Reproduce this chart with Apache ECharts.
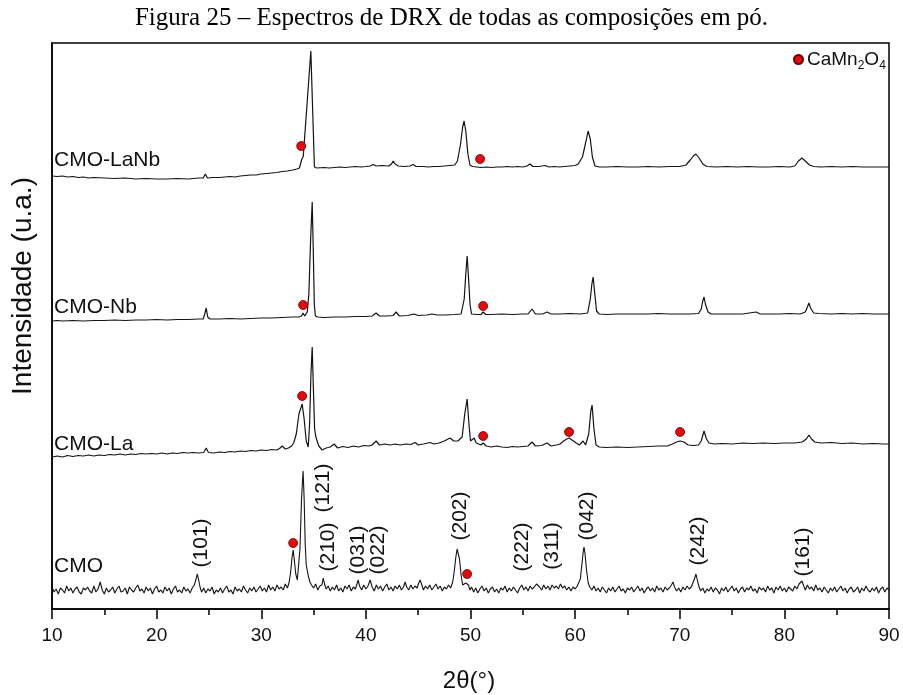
<!DOCTYPE html>
<html>
<head>
<meta charset="utf-8">
<script src="https://cdn.jsdelivr.net/npm/echarts@6/dist/echarts.min.js"></script>
<style>html,body{margin:0;padding:0;background:#fff}#c{width:903px;height:695px}</style>
</head>
<body>
<div id="c"></div>
<script>
// ---- data (2θ in degrees, intensity in arbitrary units, curves stacked with offsets) ----
const seriesNames = ['CMO', 'CMO-La', 'CMO-Nb', 'CMO-LaNb'];

const cmo = [
[10.0,22],[10.2,17],[10.4,20],[10.6,15],[10.8,21],[11.0,19],[11.2,16],[11.4,23],[11.6,18],[11.8,21],[12.0,16],[12.2,20],[12.4,22],[12.6,17],[12.8,15],[13.0,21],[13.2,19],[13.4,22],[13.6,18],[13.8,16],[14.0,23],[14.2,17],[14.4,20],[14.61,27],[14.8,19],[15.0,15],[15.2,21],[15.4,17],[15.6,19],[15.8,22],[16.0,16],[16.2,20],[16.4,23],[16.6,17],[16.8,18],[17.0,21],[17.2,15],[17.4,22],[17.6,19],[17.8,17],[18.0,21],[18.2,24],[18.4,18],[18.6,20],[18.8,16],[19.0,22],[19.2,18],[19.4,21],[19.6,15],[19.8,20],[20.0,23],[20.2,17],[20.4,19],[20.6,16],[20.8,22],[21.0,18],[21.2,21],[21.4,15],[21.6,20],[21.8,23],[22.0,17],[22.2,19],[22.4,16],[22.6,22],[22.8,18],[23.0,20],[23.2,16],[23.4,21],[23.6,24],[23.75,29],[23.88,35],[24.0,30],[24.15,22],[24.3,17],[24.5,21],[24.7,16],[24.9,20],[25.1,18],[25.3,22],[25.5,15],[25.7,19],[25.9,17],[26.1,21],[26.3,16],[26.5,20],[26.7,23],[26.9,17],[27.1,19],[27.3,15],[27.5,22],[27.7,18],[27.9,20],[28.1,17],[28.3,23],[28.5,19],[28.7,16],[28.9,21],[29.1,18],[29.3,22],[29.5,17],[29.7,20],[29.9,23],[30.1,18],[30.3,21],[30.5,17],[30.7,24],[30.9,19],[31.1,22],[31.3,18],[31.5,24],[31.7,20],[31.9,22],[32.1,19],[32.3,25],[32.5,21],[32.65,26],[32.8,36],[32.95,52],[33.05,59],[33.15,50],[33.3,35],[33.45,29],[33.55,31],[33.7,60],[33.85,110],[34.0,138],[34.1,110],[34.2,65],[34.3,44],[34.39,42],[34.5,33],[34.65,27],[34.8,24],[35.0,21],[35.2,25],[35.4,19],[35.6,23],[35.8,24],[35.92,31],[36.05,25],[36.2,20],[36.4,23],[36.6,18],[36.8,22],[37.0,19],[37.2,24],[37.4,18],[37.6,21],[37.8,17],[38.0,23],[38.2,20],[38.4,24],[38.6,18],[38.8,22],[39.0,20],[39.15,25],[39.26,29],[39.4,23],[39.6,19],[39.8,24],[40.0,20],[40.2,23],[40.41,29],[40.6,22],[40.8,18],[41.0,24],[41.2,20],[41.4,23],[41.6,18],[41.8,22],[42.0,25],[42.2,19],[42.4,22],[42.6,18],[42.8,23],[43.0,20],[43.2,24],[43.4,19],[43.6,22],[43.75,27],[43.9,22],[44.1,19],[44.3,24],[44.5,20],[44.7,23],[44.9,21],[45.05,26],[45.19,29],[45.35,24],[45.5,19],[45.7,23],[45.9,20],[46.1,24],[46.3,19],[46.5,22],[46.7,25],[46.9,20],[47.1,23],[47.3,18],[47.5,22],[47.7,20],[47.9,24],[48.1,21],[48.3,27],[48.45,38],[48.6,52],[48.72,60],[48.82,62],[48.95,50],[49.1,34],[49.25,24],[49.4,22],[49.55,26],[49.68,28],[49.8,24],[49.95,19],[50.1,22],[50.3,17],[50.5,21],[50.7,16],[50.9,20],[51.1,23],[51.3,18],[51.5,21],[51.7,16],[51.9,20],[52.1,22],[52.3,17],[52.5,20],[52.7,16],[52.9,21],[53.1,19],[53.3,23],[53.5,17],[53.7,21],[53.9,18],[54.1,22],[54.3,19],[54.5,16],[54.7,21],[54.9,24],[55.1,19],[55.3,22],[55.5,18],[55.7,23],[55.9,20],[56.1,22],[56.3,25],[56.46,27],[56.6,22],[56.8,19],[57.0,24],[57.2,20],[57.4,23],[57.6,19],[57.8,24],[58.0,21],[58.2,23],[58.4,20],[58.6,25],[58.8,21],[59.0,23],[59.2,19],[59.4,22],[59.6,18],[59.8,22],[60.0,20],[60.2,23],[60.35,21],[60.5,30],[60.65,45],[60.78,58],[60.85,62],[60.95,55],[61.1,38],[61.25,26],[61.4,22],[61.6,19],[61.8,23],[62.0,18],[62.2,21],[62.4,17],[62.6,22],[62.8,19],[63.0,16],[63.2,21],[63.4,18],[63.6,22],[63.8,17],[64.0,20],[64.2,23],[64.4,18],[64.6,20],[64.8,16],[65.0,21],[65.2,19],[65.4,22],[65.6,17],[65.8,20],[66.0,23],[66.2,18],[66.4,21],[66.6,16],[66.8,20],[67.0,22],[67.2,18],[67.4,21],[67.6,17],[67.8,23],[68.0,19],[68.2,21],[68.4,17],[68.6,22],[68.8,19],[69.0,21],[69.2,24],[69.36,27],[69.5,22],[69.7,18],[69.9,21],[70.1,17],[70.3,22],[70.5,19],[70.7,23],[70.9,20],[71.1,22],[71.25,26],[71.4,30],[71.55,35],[71.7,28],[71.85,22],[72.0,18],[72.2,21],[72.4,16],[72.6,20],[72.8,18],[73.0,22],[73.2,17],[73.4,21],[73.6,19],[73.8,15],[74.0,21],[74.2,18],[74.4,22],[74.6,17],[74.8,20],[75.0,23],[75.2,18],[75.4,21],[75.6,16],[75.8,20],[76.0,22],[76.2,17],[76.4,21],[76.6,19],[76.8,23],[77.0,18],[77.2,20],[77.4,16],[77.6,22],[77.8,19],[78.0,21],[78.2,17],[78.4,23],[78.6,19],[78.8,21],[79.0,16],[79.2,22],[79.4,19],[79.6,23],[79.8,18],[80.0,21],[80.2,17],[80.4,22],[80.6,20],[80.8,18],[81.0,23],[81.2,20],[81.4,25],[81.55,24],[81.68,28],[81.85,23],[82.0,19],[82.2,24],[82.4,20],[82.6,22],[82.8,18],[83.0,24],[83.2,19],[83.4,21],[83.6,17],[83.8,22],[84.0,19],[84.2,16],[84.4,21],[84.6,18],[84.8,22],[85.0,17],[85.2,20],[85.4,23],[85.6,18],[85.8,21],[86.0,16],[86.2,20],[86.4,22],[86.6,17],[86.8,19],[87.0,22],[87.2,16],[87.4,21],[87.6,18],[87.8,23],[88.0,19],[88.2,17],[88.4,21],[88.6,18],[88.8,22],[89.0,16],[89.2,20],[89.4,22],[89.6,17],[89.8,21],[90.0,19]
];

const cmoLa = [
[10,152],[10.5,153],[11,152],[11.5,153.5],[12,152.5],[12.5,153.5],[13,153],[13.5,154],[14,153],[14.5,154],[15,153.5],[15.5,154.5],[16,154],[16.5,155],[17,154],[17.5,155],[18,154.5],[18.5,155.5],[19,155],[19.5,155.5],[20,155],[20.5,156],[21,155],[21.5,156],[22,155.5],[22.5,156.5],[23,156],[23.5,156.5],[24,156],[24.5,156.5],[24.74,161],[24.95,156.5],[25.5,156],[26,157],[26.5,156.5],[27,157.5],[27.5,157],[28,158],[28.5,157.5],[29,158.5],[29.5,158],[30,159],[30.5,158.5],[31,159.5],[31.5,159],[31.8,161],[32.0,163],[32.3,160],[32.6,161],[32.9,163],[33.1,166],[33.35,175],[33.6,195],[33.91,205],[34.1,190],[34.3,168],[34.49,162],[34.62,185],[34.75,235],[34.87,262],[34.97,225],[35.1,180],[35.22,172],[35.35,172],[35.5,163],[35.82,159],[36.2,161],[36.6,162],[36.97,165],[37.3,161],[37.8,162.5],[38.3,161.5],[38.8,163],[39.3,162],[39.8,163.5],[40.3,163],[40.6,164],[40.98,168],[41.3,164],[41.8,165],[42.3,164],[42.8,165],[43.3,164],[43.8,165],[44.3,164.5],[44.71,166.5],[45.0,164],[45.5,165],[46.14,166.5],[46.5,165],[47.0,166],[47.5,168],[48.05,171],[48.4,168],[48.8,168],[49.2,172],[49.45,195],[49.68,210],[49.85,185],[50.0,168],[50.15,167],[50.35,171],[50.55,166],[51.0,164],[51.21,166],[51.5,163],[52,162],[52.5,163],[53,162],[53.5,161.5],[54,162.5],[54.5,162],[55,162.5],[55.5,163],[55.88,167],[56.2,163],[56.8,163.5],[57.32,166],[57.7,163],[58.2,164],[58.56,165],[58.9,168],[59.2,170],[59.42,171],[59.7,169],[60.1,166],[60.4,164],[60.76,168],[61.0,164],[61.3,175],[61.5,198],[61.62,204],[61.8,180],[62.0,164],[62.3,162],[63,161.5],[64,162],[65,161.5],[66,162],[67,162.5],[68,163],[68.8,163],[69.3,165],[69.7,167],[70.03,168],[70.4,167],[70.8,164],[71.3,163.5],[71.8,164],[72.05,168],[72.32,178],[72.55,170],[72.8,166],[73.3,165],[74,165.5],[75,165],[76,166],[77,165.5],[78,166],[79,165.5],[80,166],[81,166],[81.7,167],[82.1,170],[82.35,174],[82.6,170],[82.9,167],[83.5,166],[84.5,166.5],[85.5,165.5],[86.5,166],[87.5,165],[88.5,165.5],[89.5,165],[90,165]
];

const cmoNb = [
[10,288],[10.5,288.5],[11,288],[12,288.5],[13,288],[14,288.5],[15,288.5],[16,289],[17,288.5],[18,289],[19,289],[20,289.5],[21,289],[22,289.5],[23,289.5],[24,290],[24.45,290],[24.6,295],[24.74,301],[24.88,292],[25.1,290],[26,290],[27,290.5],[28,290],[29,290.5],[30,291],[31,291],[32,291.5],[33,292],[33.6,292],[33.85,293],[34.0,296],[34.15,293],[34.4,297],[34.55,315],[34.72,370],[34.87,407],[34.97,360],[35.07,305],[35.17,293],[35.4,292],[36,291.5],[37,292],[38,292],[39,292.5],[40,292.5],[40.6,293],[40.98,296],[41.3,293],[42,293],[42.6,293.5],[42.89,297],[43.2,293],[44,293.5],[44.61,295],[45,293.5],[45.8,294],[46.33,295],[46.8,294],[47.5,294],[48.5,294.5],[49.1,295],[49.4,310],[49.55,335],[49.68,353],[49.82,330],[49.95,305],[50.1,295],[50.6,294.5],[51.0,294.5],[51.21,297],[51.45,294.5],[52,294.5],[53,295],[54,294.5],[55,295],[55.5,295],[55.88,300],[56.2,295],[56.9,295],[57.32,297],[57.7,295],[58.5,295],[59.5,295.5],[60.5,295],[61.2,296],[61.45,310],[61.6,325],[61.72,332],[61.85,318],[62.05,298],[62.3,295],[63,294.5],[64,295],[65,295],[66,295],[67,295],[68,295.5],[69,295],[70,295],[71,295],[71.8,295.5],[72.05,300],[72.2,308],[72.32,312],[72.45,305],[72.7,297],[73,295],[74,295],[75,295],[76,295],[77.29,297],[77.7,295],[78.5,295],[79.5,295],[80.5,295.5],[81.5,295],[82.0,297],[82.2,302],[82.35,306],[82.5,301],[82.8,296],[83.3,295.5],[84.5,295],[85.5,295.5],[86.5,295],[87.5,295.5],[88.5,295],[90,295]
];

const cmoLaNb = [
[10,433],[10.5,432.5],[11,433],[11.5,432],[12,432.5],[12.5,431.5],[13,432],[13.5,431],[14,431.5],[15,431],[16,430.5],[17,431],[18,430],[19,430.5],[20,430],[21,430],[22,430.5],[23,430],[23.5,430.5],[24,431],[24.45,431],[24.65,435],[24.85,431],[25.3,431.5],[26,431.5],[26.5,432],[27,432.5],[27.5,432],[28,433],[28.5,433.5],[29,434],[29.5,434],[30,435],[30.5,435.5],[31,436],[31.5,436.5],[32,437.5],[32.5,438],[33,439],[33.4,440],[33.65,441],[33.85,449],[34.02,453],[34.74,558],[35.08,442],[35.3,441],[36,441.5],[36.5,441],[37,441.5],[37.5,442],[38,441.5],[38.5,442],[39,442.5],[39.5,442],[40,442.5],[40.4,443],[40.69,444.5],[41,443],[41.5,443.5],[42.2,443],[42.45,445],[42.61,448],[42.8,445],[43.1,443],[43.7,442.5],[44.2,443],[44.52,444.5],[44.8,442.5],[45.5,442.5],[46,442],[46.5,442.5],[47,442.5],[47.5,443],[48,443.5],[48.5,444],[48.75,448],[49.05,465],[49.25,482],[49.39,488],[49.55,478],[49.75,455],[49.95,444],[50.2,442.5],[50.6,442],[51,441.5],[51.5,442],[52,441.5],[52.5,442],[53,442],[53.5,442.5],[54,442],[54.5,442.5],[55,442],[55.4,443],[55.69,445],[55.95,442.5],[56.5,442.5],[57.13,443.5],[57.5,442],[58,442.5],[58.5,442],[59,442.5],[59.5,443],[60,443.5],[60.3,445],[60.7,452],[61.0,466],[61.24,478],[61.45,470],[61.65,452],[61.9,443],[62.3,442],[63,442],[64,442.5],[65,442],[66,442],[67,442.5],[68,442],[69,442.5],[70,442.5],[70.6,444],[71.0,449],[71.3,453],[71.55,455],[71.85,451],[72.2,445],[72.6,442.5],[73.5,442],[74.5,442.5],[75.5,442],[76.5,442.5],[77.5,442],[78.5,442],[79.5,442.5],[80.5,442],[81.0,443],[81.35,448],[81.68,451],[82.0,448],[82.4,444],[82.8,442.5],[83.5,442],[84.5,442.5],[85.5,442],[86.5,442.5],[87.5,442],[88.5,442],[90,442]
];

// CaMn2O4 markers
const dotAngles = [33.82, 50.92, 34.0, 51.21, 33.91, 51.21, 59.42, 70.03, 33.05, 49.68];
const dotY      = [463,   450,   304,  303,   213,   173,   177,   177,   66,    35];

// Miller indices of CMO
const hklNames  = ['(101)','(121)','(210)','(031)','(022)','(202)','(222)','(311)','(042)','(242)','(161)'];
const hklAngles = [24.26, 35.92, 36.39, 39.26, 41.17, 49.0, 54.93, 57.8, 61.14, 71.75, 81.78];
const hklY      = [66, 121, 62, 59, 59, 93, 62, 63, 93, 68, 57];

const xTicks = [10, 20, 30, 40, 50, 60, 70, 80, 90];

// ---- chart ----
const SANS = '"Liberation Sans", Arial, sans-serif';
const chart = echarts.init(document.getElementById('c'), null, {renderer: 'canvas'});
const lineColor = '#141414';
const curves = [cmo, cmoLa, cmoNb, cmoLaNb];

const series = curves.map((d, i) => ({
  name: seriesNames[i], type: 'line', data: d, showSymbol: false, symbol: 'none',
  sampling: 'none', smooth: false, silent: true,
  lineStyle: {color: lineColor, width: i === 0 ? 1.1 : 1.2}, z: 2
}));
series.push({
  name: 'CaMn2O4', type: 'scatter', symbol: 'circle', symbolSize: 9,
  data: dotAngles.map((a, i) => [a, dotY[i]]),
  itemStyle: {color: '#e00c0c', borderColor: '#6a0000', borderWidth: 0.8, opacity: 1}, z: 5
});
series.push({
  name: 'hkl', type: 'scatter', symbolSize: 0, silent: true,
  itemStyle: {opacity: 1},
  data: hklAngles.map((a, i) => ({value: [a, hklY[i]], name: hklNames[i]})),
  label: {show: true, position: 'inside', rotate: 90, formatter: p => p.name,
          fontFamily: SANS, fontSize: 21, color: '#111', opacity: 1, textBorderWidth: 0, textBorderColor: 'transparent'}, z: 4
});

chart.setOption({
  animation: false,
  backgroundColor: '#fff',
  title: {
    text: 'Figura 25 – Espectros de DRX de todas as composições em pó.',
    left: 'center', top: 1,
    textStyle: {fontFamily: '"Liberation Serif", "Times New Roman", serif', fontSize: 25, fontWeight: 'normal', color: '#000'}
  },
  legend: {
    data: ['CaMn2O4'], left: 788, top: 45, icon: 'circle', itemWidth: 9, itemHeight: 9, itemGap: 0,
    selectedMode: false,
    formatter: () => '{n|CaMn}{s|2}{n|O}{s|4}',
    textStyle: {
      padding: [0, 0, 0, -1],
      rich: {
        n: {fontFamily: SANS, fontSize: 19, color: '#111', lineHeight: 24},
        s: {fontFamily: SANS, fontSize: 12, color: '#111', verticalAlign: 'bottom', lineHeight: 12}
      }
    }
  },
  grid: {left: 52, right: 14, top: 43, bottom: 86, show: true, borderColor: '#000', borderWidth: 1.5, containLabel: false},
  xAxis: {
    type: 'value', min: xTicks[0], max: xTicks[xTicks.length - 1], interval: 10,
    axisLine: {show: true, lineStyle: {color: '#000', width: 1.5}},
    axisTick: {show: true, inside: false, length: 10, lineStyle: {color: '#000', width: 1.5}},
    minorTick: {show: true, splitNumber: 2, length: 6, lineStyle: {color: '#000', width: 1.5}},
    axisLabel: {fontFamily: SANS, fontSize: 19, color: '#111', margin: 17},
    splitLine: {show: false}
  },
  yAxis: {
    type: 'value', min: 0, max: 566,
    axisLine: {show: true, lineStyle: {color: '#000', width: 1.5}},
    axisTick: {show: false}, axisLabel: {show: false}, splitLine: {show: false}
  },
  graphic: [
    {type: 'text', x: 23, y: 286, rotation: Math.PI / 2,
     style: {text: 'Intensidade (u.a.)', font: '28px ' + SANS, fill: '#111', align: 'center', verticalAlign: 'middle'}},
    {type: 'text', x: 469, y: 681,
     style: {text: '2θ(°)', font: '24px ' + SANS, fill: '#111', align: 'center', verticalAlign: 'middle'}},
    {type: 'text', x: 54, y: 160, style: {text: 'CMO-LaNb', font: '21px ' + SANS, fill: '#111', align: 'left', verticalAlign: 'middle'}},
    {type: 'text', x: 54, y: 307, style: {text: 'CMO-Nb', font: '21px ' + SANS, fill: '#111', align: 'left', verticalAlign: 'middle'}},
    {type: 'text', x: 54, y: 444, style: {text: 'CMO-La', font: '21px ' + SANS, fill: '#111', align: 'left', verticalAlign: 'middle'}},
    {type: 'text', x: 54, y: 566, style: {text: 'CMO', font: '21px ' + SANS, fill: '#111', align: 'left', verticalAlign: 'middle'}}
  ],
  series: series
});
</script>
</body>
</html>
